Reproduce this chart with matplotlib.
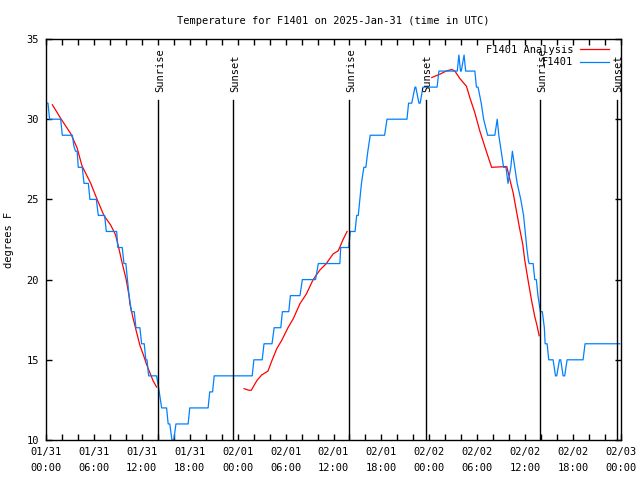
import matplotlib
matplotlib.use("Agg")
import matplotlib.pyplot as plt
import numpy as np

# hours since 01/31 00:00 UTC
obs_hours = [0.0, 0.25, 0.45, 1.84, 2.04, 3.3, 3.5, 3.7, 3.9, 4.04, 4.54, 4.76, 5.3, 5.5, 6.3,
             6.55, 7.34, 7.55, 8.85, 9.0, 9.55, 9.76, 10.0, 10.2, 10.4, 10.7, 11.05, 11.26, 11.76,
             11.97, 12.3, 12.5, 12.65, 12.85, 13.85, 13.98, 14.18, 14.48, 15.1, 15.3, 15.5, 15.77,
             16.0, 16.27, 17.8, 18.0, 20.3, 20.5, 20.86, 21.06, 25.82, 26.03, 27.07, 27.3, 28.3,
             28.57, 29.4, 29.6, 30.4, 30.6, 31.8, 32.1, 33.75, 34.1, 36.8, 36.9, 37.9, 38.1, 38.7,
             38.9, 39.1, 39.3, 39.5, 39.8, 40.05, 40.3, 40.6, 42.4, 42.7, 45.2, 45.4, 45.8, 46.2,
             46.3, 46.7, 46.85, 47.2, 48.97, 49.2, 51.5, 51.7, 51.9, 52.0, 52.35, 52.55, 53.7, 53.9,
             54.1, 54.5, 54.8, 55.3, 56.2, 56.5, 56.7, 57.0, 57.3, 57.6, 57.85, 58.2, 58.4, 58.7,
             59.0, 59.45, 59.8, 60.0, 60.2, 60.4, 60.5, 61.0, 61.2, 61.4, 61.6, 61.9, 62.15, 62.4,
             62.5, 62.75, 62.95, 63.5, 63.8, 63.95, 64.3, 64.45, 64.75, 64.95, 65.25, 67.25, 67.5,
             71.85]
obs_temp = [31, 31, 30, 30, 29, 29, 28.3, 28, 28, 27, 27, 26, 26, 25, 25,
            24, 24, 23, 23, 22, 22, 21, 21, 20, 19, 18, 18, 17, 17,
            16, 16, 15, 15, 14, 14, 13.6, 13, 12, 12, 11, 11, 10,
            10, 11, 11, 12, 12, 13, 13, 14, 14, 15, 15, 16, 16,
            17, 17, 18, 18, 19, 19, 20, 20, 21, 21, 22, 22, 23, 23,
            24, 24, 25, 26, 27, 27, 28, 29, 29, 30, 30, 31, 31, 32,
            32, 31, 31, 32, 32, 33, 33, 34, 33, 33, 34, 33, 33, 32,
            32, 31, 30, 29, 29, 30, 29, 28, 27, 27, 26, 27, 28, 27,
            26, 25, 24, 23, 22, 21.2, 21, 21, 20, 20, 19, 18, 18, 17,
            16, 16, 15, 15, 14, 14, 15, 15, 14, 14, 15, 15, 16,
            16]

ana_hours = [0.8, 1.84, 3.1, 3.9, 4.5, 5.6, 6.4, 7.25, 8.1, 8.7, 9.1, 9.55, 10.0, 10.4, 10.5,
             10.9, 11.35, 11.76, 12.2, 12.6, 13.0, 13.4, 13.85, np.nan,
             24.8, 25.4, 25.7, 26.4, 27.0, 27.8, 28.25, 28.9, 29.5, 30.3, 31.0, 31.8, 32.6,
             33.45, 34.3, 35.1, 35.95, 36.6, 37.2, 37.7, np.nan,
             48.3, 49.3, 50.1, 50.8, 51.2, 51.8, 52.65, 53.1, 53.7, 54.3, 55.2, 55.8, 57.7,
             58.1, 58.5, 58.9, 59.3, 59.7, 59.95, 60.35, 60.8, 61.2, 61.5, 61.75]
ana_temp = [30.9, 30.05, 29.1, 28.2, 27.1, 26.0, 25.0, 24.0, 23.4, 22.8, 22.0, 21.0, 20.1, 19.0, 18.5,
            17.6, 16.7, 15.9, 15.3, 14.7, 14.2, 13.7, 13.3, np.nan,
            13.2, 13.1, 13.1, 13.7, 14.05, 14.3, 14.9, 15.7, 16.2, 17.0, 17.6, 18.5, 19.1,
            20.0, 20.6, 21.0, 21.6, 21.8, 22.5, 23.0, np.nan,
            32.6, 32.8, 33.0, 33.1, 33.0, 32.55, 32.05, 31.3, 30.4, 29.3, 27.9, 27.0, 27.05,
            26.2, 25.4, 24.3, 23.2, 22.2, 21.2, 20.0, 18.7, 17.7, 17.1, 16.5]

event_hours = [14.05, 23.45, 37.95, 47.55, 61.9, 71.45]
event_labels = ["Sunrise", "Sunset", "Sunrise", "Sunset", "Sunrise", "Sunset"]

tick_hours = list(range(0, 73, 6))
tick_labels = ["01/31\n00:00", "01/31\n06:00", "01/31\n12:00", "01/31\n18:00",
               "02/01\n00:00", "02/01\n06:00", "02/01\n12:00", "02/01\n18:00",
               "02/02\n00:00", "02/02\n06:00", "02/02\n12:00", "02/02\n18:00",
               "02/03\n00:00"]

plt.rcParams['font.family'] = ['DejaVu Sans Mono']
plt.rcParams['font.size'] = 7

fig = plt.figure(figsize=(6.4, 4.8), dpi=100)
ax = fig.add_axes([46 / 640, 40 / 480, 575 / 640, 401 / 480])

ax.plot(ana_hours, ana_temp, color='#ff0000', lw=0.9, label='F1401 Analysis')
ax.plot(obs_hours, obs_temp, color='#0080ff', lw=0.9, label='F1401')

for h, lab in zip(event_hours, event_labels):
    ax.axvline(h, ymin=0, ymax=0.848, color='black', lw=1)
    ax.text(h + 0.25, 0.868, lab, transform=ax.get_xaxis_transform(), rotation=90,
            ha='center', va='bottom', fontsize=7.5)

ax.set_xlim(0, 72)
ax.set_ylim(10, 35)
ax.set_xticks(tick_hours)
ax.set_xticklabels(tick_labels, linespacing=1.7)
ax.set_xticks(range(0, 73, 2), minor=True)
ax.set_yticks(range(10, 36, 5))
ax.tick_params(which='both', direction='in', top=True, right=True, length=4, width=1,
               labelsize=7.5, pad=5)
ax.tick_params(axis='x', which='major', pad=5)
for s in ax.spines.values():
    s.set_linewidth(1)

ax.set_ylabel('degrees F', fontsize=7.5)
ax.yaxis.set_label_coords(-0.056, 0.5)
ax.set_title('Temperature for F1401 on 2025-Jan-31 (time in UTC)', fontsize=7.5, pad=11)

leg = ax.legend(loc='upper right', bbox_to_anchor=(0.981, 0.988), frameon=False,
                fontsize=7.5, handlelength=2.8, markerfirst=False, borderaxespad=0,
                labelspacing=0.25, handletextpad=0.6, borderpad=0.1)
for t in leg.get_texts():
    t.set_ha('right')

fig.savefig('out.png', dpi=100)
